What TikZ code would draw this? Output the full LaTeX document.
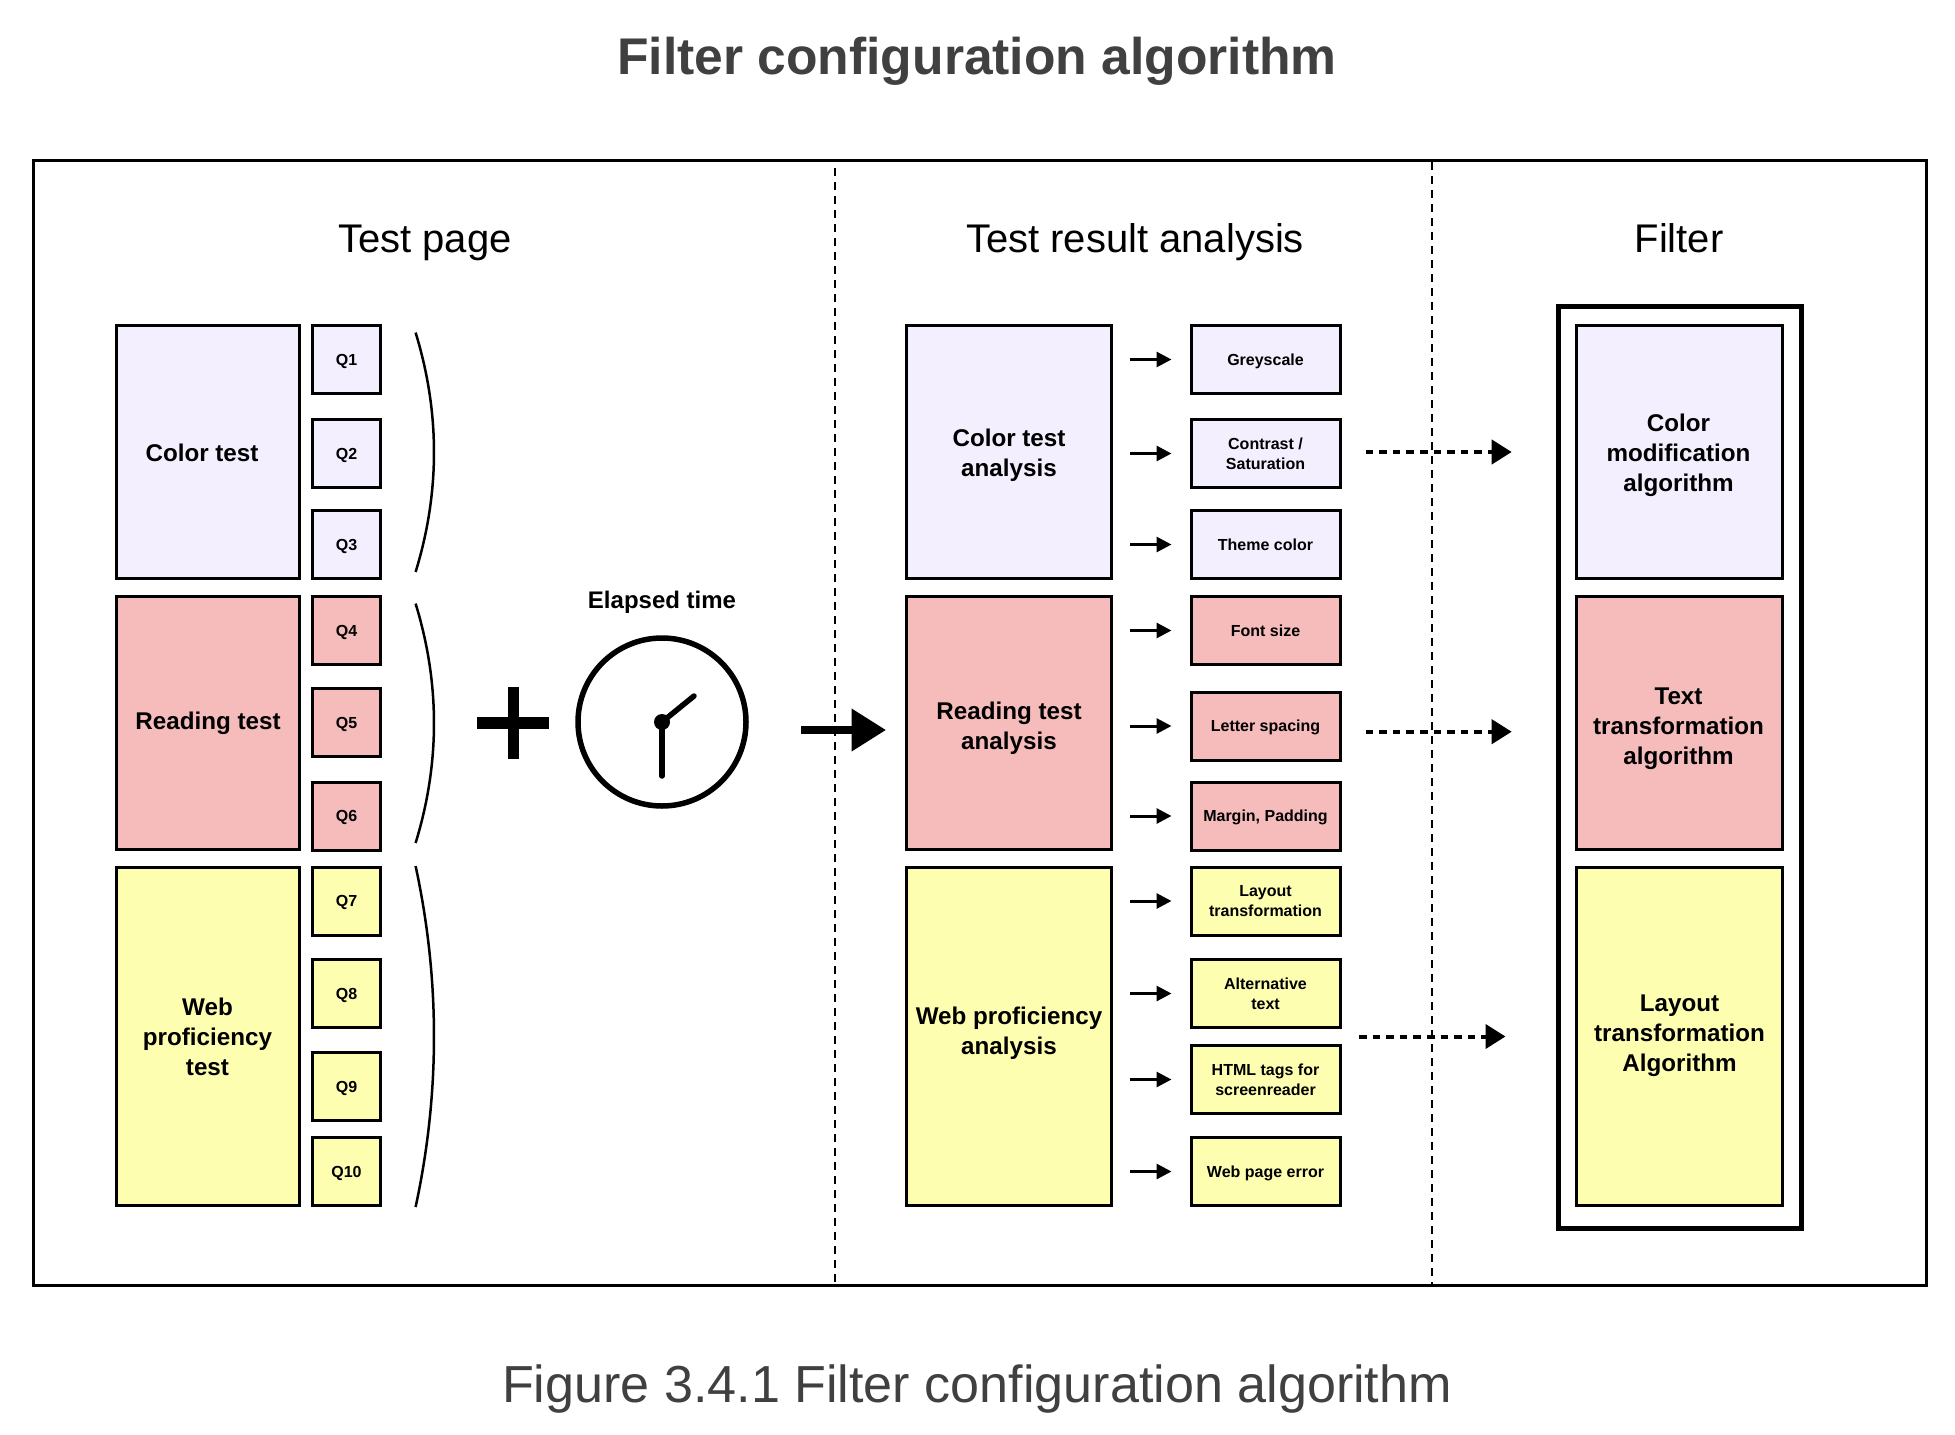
\documentclass[tikz,border=0pt]{standalone}
\usepackage{fontspec}
\setmainfont{Liberation Sans}
\usetikzlibrary{arrows.meta}

\definecolor{violetfill}{HTML}{F3EFFE}
\definecolor{pinkfill}{HTML}{F6BBBB}
\definecolor{yellowfill}{HTML}{FEFEB1}
\definecolor{titlegray}{HTML}{404040}

\tikzset{
    frame/.style={draw, line width=3pt, inner sep=0pt},
    box/.style={draw, line width=3pt, inner sep=0pt, outer sep=0pt, align=center},
    grouptext/.style={font=\bfseries\fontsize{24.2}{30}\selectfont, align=center},
    groupbox/.style={box, grouptext},
    smallbox/.style={box, minimum height=68pt, font=\bfseries\fontsize{16}{20}\selectfont},
    qbox/.style={smallbox, minimum width=68pt},
    resultbox/.style={smallbox, minimum width=149pt},
    oneline/.style={text height=15pt, text depth=3.5pt},
    twolines/.style={},
    heading/.style={anchor=base, font=\fontsize{40}{46}\selectfont},
    smallarrow/.style={-{Triangle[length=15pt,width=15pt]}, line width=3pt, shorten <=18.5pt, shorten >=19.5pt},
    dotarrow/.style={-{Triangle[length=20pt,width=24pt]}, line width=4pt, dash pattern=on 7.6pt off 6pt},
    divider/.style={line width=2pt, dash pattern=on 8pt off 6pt},
    bracket/.style={line width=2.5pt},
}

\begin{document}
\begin{tikzpicture}[x=1pt, y=-1pt]
    \useasboundingbox (0,0) rectangle (1955,1435);

    % title and caption
    \node[font=\bfseries\fontsize{51.6}{56}\selectfont, text=titlegray] (title) at (977,61) {Filter configuration algorithm};
    \node[font=\fontsize{52.1}{56}\selectfont, text=titlegray] (caption) at (977,1389) {Figure 3.4.1 Filter configuration algorithm};

    % outer frame
    \node[frame, minimum width=1893pt, minimum height=1125pt] (frame) at (979.5,722.5) {};

    % test page
    \node[heading] (testpage) at (425,252) {Test page};
    \node[groupbox, fill=violetfill, minimum width=182.5pt, minimum height=253pt, label={[grouptext, xshift=-6pt, yshift=-1pt]center:Color test}] (colortest) at (208,452) {};
    \node[groupbox, fill=pinkfill, minimum width=182.5pt, minimum height=253pt] (readingtest) at (208,723) {Reading test};
    \node[groupbox, fill=yellowfill, minimum width=183pt, minimum height=338pt] (webtest) at (207.5,1036.5) {Web\\proficiency\\test};

    \foreach \n/\y/\c in {1/359.5/violetfill, 2/453.5/violetfill, 3/544.5/violetfill,
                          4/630.5/pinkfill, 5/722.5/pinkfill, 6/816/pinkfill,
                          7/901/yellowfill, 8/993.5/yellowfill, 9/1086.5/yellowfill, 10/1171.5/yellowfill}
        \node[qbox, oneline, fill=\c] (q\n) at (346.5,\y) {Q\n};

    % brackets
    \foreach \a/\b in {332.6/572, 603.6/843, 866/1207} {
        \coordinate (top) at (415.6,\a);
        \coordinate (bottom) at (415.6,\b);
        \draw[bracket] (top) .. controls ([xshift=24.5pt,yshift={-(\b-\a)/3*1pt}]top) and ([xshift=24.5pt,yshift={(\b-\a)/3*1pt}]bottom) .. (bottom);
    }

    % plus and clock
    \fill (477,717) rectangle (548.5,729);
    \fill (507.5,687) rectangle (518.6,759);
    \node[font=\bfseries\fontsize{24}{30}\selectfont] (elapsed) at (662,602) {Elapsed time};
    \node[draw, circle, line width=5.5pt, minimum size=168pt, inner sep=0pt] (clock) at (662,722) {};
    \coordinate (hourend) at (694,696);
    \coordinate (minuteend) at (662,776);
    \fill (clock.center) circle (8pt);
    \draw[line width=5.5pt, line cap=round] (clock.center) -- (hourend);
    \draw[line width=5.5pt, line cap=round] (clock.center) -- (minuteend);

    % test result analysis
    \node[heading] (resultanalysis) at (1135,252) {Test result analysis};
    \node[groupbox, fill=violetfill, minimum width=205pt, minimum height=253pt, label={[grouptext, yshift=-3pt]center:Color test\\analysis}] (colorana) at (1009,452) {};
    \node[groupbox, fill=pinkfill, minimum width=205pt, minimum height=253pt, label={[grouptext, yshift=-5pt]center:Reading test\\analysis}] (readingana) at (1009,723) {};
    \node[groupbox, fill=yellowfill, minimum width=205pt, minimum height=338pt, label={[grouptext, yshift=3pt]center:Web proficiency\\analysis}] (webana) at (1009,1036.5) {};

    \foreach \n/\y/\c/\g/\s/\t in {1/359.5/violetfill/colorana/oneline/Greyscale, 2/453.5/violetfill/colorana/twolines/{Contrast /\\Saturation}, 3/544.5/violetfill/colorana/oneline/Theme color,
                                   4/630.5/pinkfill/readingana/oneline/Font size, 5/726/pinkfill/readingana/oneline/Letter spacing, 6/816/pinkfill/readingana/oneline/{Margin, Padding},
                                   7/901/yellowfill/webana/twolines/Layout\\transformation, 8/993.5/yellowfill/webana/twolines/Alternative\\text, 9/1079.5/yellowfill/webana/twolines/HTML tags for\\screenreader, 10/1171.5/yellowfill/webana/oneline/Web page error} {
        \node[resultbox, \s, fill=\c] (r\n) at (1265.5,\y) {\t};
        \draw[smallarrow] (\g.east |- r\n.west) -- (r\n.west);
    }

    % filter
    \node[heading] (filter) at (1679,252) {Filter};
    \node[draw, line width=5pt, minimum width=243pt, minimum height=921.5pt, inner sep=0pt] (filterframe) at (1680,767.25) {};
    \node[groupbox, fill=violetfill, minimum width=206pt, minimum height=253pt, label={[grouptext, xshift=-1pt, yshift=-3pt]center:Color\\modification\\algorithm}] (colormod) at (1679.5,452) {};
    \node[groupbox, fill=pinkfill, minimum width=206pt, minimum height=253pt, label={[grouptext, xshift=-1pt, yshift=-6pt]center:Text\\transformation\\algorithm}] (textalg) at (1679.5,723) {};
    \node[groupbox, fill=yellowfill, minimum width=206pt, minimum height=338pt, label={[grouptext, yshift=1pt]center:Layout\\transformation\\Algorithm}] (layoutalg) at (1679.5,1036.5) {};

    % dividers
    \coordinate (divAtop) at (835,168);
    \coordinate (divAbottom) at (835,1285);
    \coordinate (divBtop) at (1432,162);
    \coordinate (divBbottom) at (1432,1285);
    \draw[divider] (divAtop) -- (divAbottom);
    \draw[divider] (divBtop) -- (divBbottom);

    % big arrow
    \coordinate (bigstart) at (801,730);
    \draw[-{Triangle[length=34.5pt,width=41pt]}, line width=7.5pt, shorten >=20.5pt] (bigstart) -- (readingana.west |- bigstart);

    % dotted arrows
    \coordinate (textalgin) at ([yshift=-8.7pt]textalg.west);
    \draw[dotarrow, shorten <=25.5pt, shorten >=64.8pt] (r2.east |- colormod.west) -- (colormod.west);
    \draw[dotarrow, shorten <=25.5pt, shorten >=64.8pt] (r5.east |- textalgin) -- (textalgin);
    \draw[dotarrow, shorten <=19pt, shorten >=71pt] (r9.east |- layoutalg.west) -- (layoutalg.west);
\end{tikzpicture}
\end{document}
